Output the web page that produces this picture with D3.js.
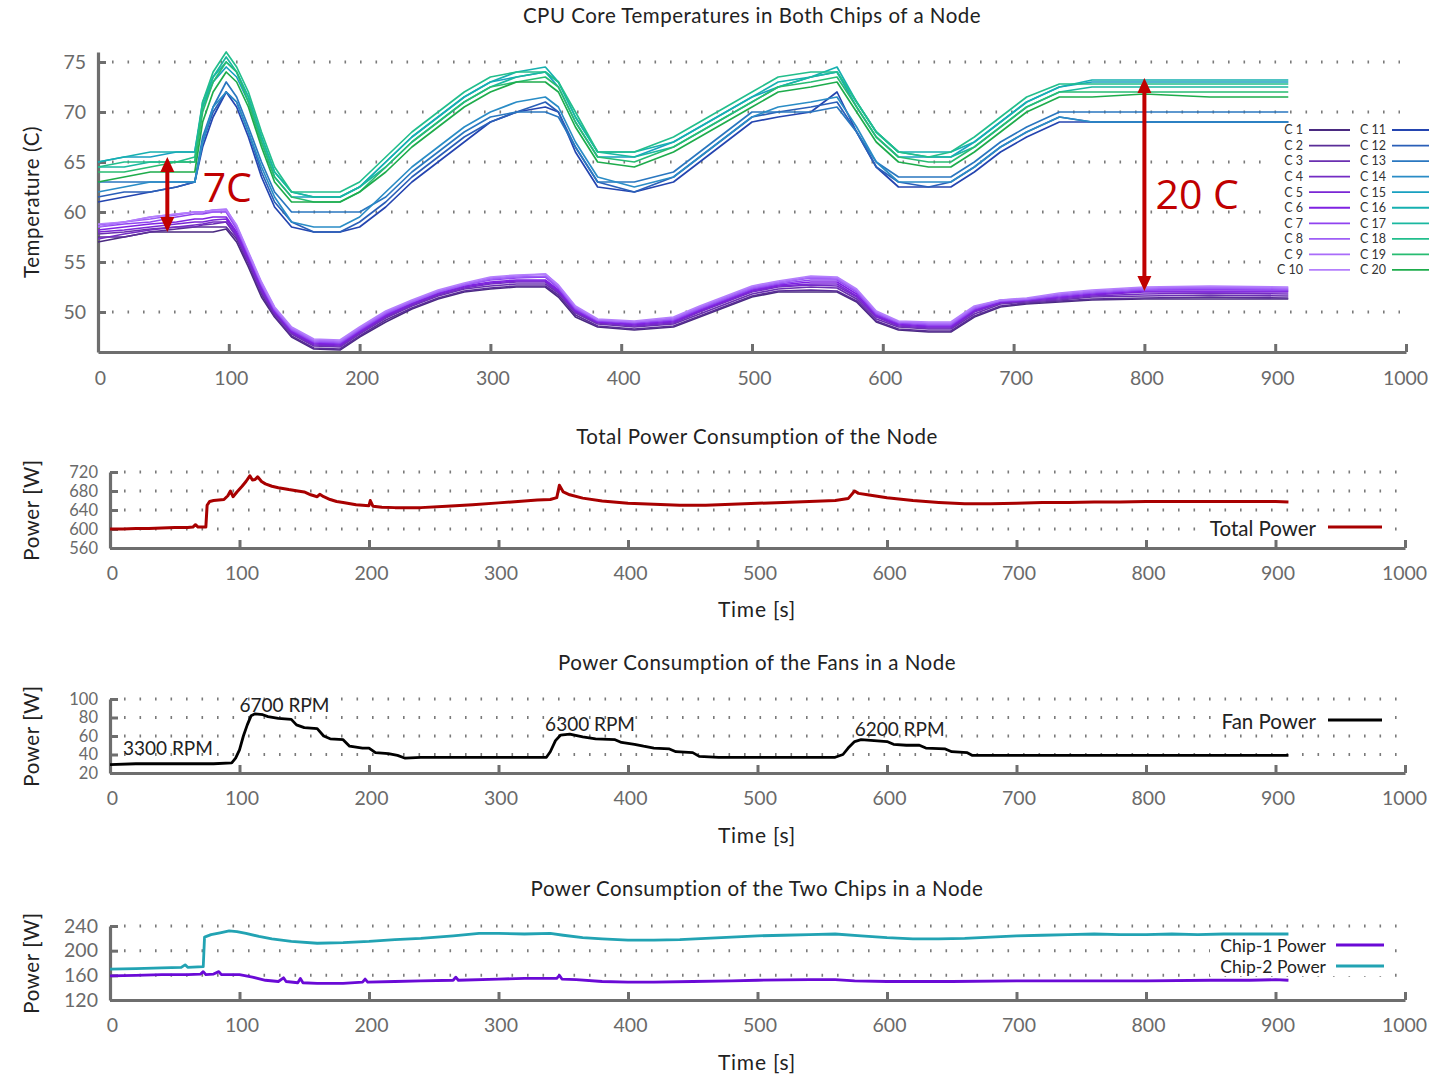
<!DOCTYPE html>
<html><head><meta charset="utf-8">
<script src="https://cdn.jsdelivr.net/npm/d3@7"></script>
<style>
body{margin:0;background:#fff;}
svg{display:block;font-family:Lato,"Open Sans",sans-serif;}
</style></head><body>
<svg id="c" width="1429" height="1075"></svg>
<script>
// ---------- DATA ----------
const xTicks = [0,100,200,300,400,500,600,700,800,900,1000];
const tempTicks = [50,55,60,65,70,75];
const totalTicks = [560,600,640,680,720];
const fanTicks = [20,40,60,80,100];
const chipTicks = [120,160,200,240];

const tempTime = [0,20,40,60,74,80,88,98,106,115,125,135,148,165,185,200,220,240,260,280,300,320,342,352,365,382,410,440,460,480,500,520,545,565,580,595,612,635,652,670,690,710,735,760,800,850,910];

const coreNames = ["C 1","C 2","C 3","C 4","C 5","C 6","C 7","C 8","C 9","C 10","C 11","C 12","C 13","C 14","C 15","C 16","C 17","C 18","C 19","C 20"];
const coreColors = ["#4a2a80","#5a2d98","#6a2fb0","#742cc4","#7a26d4","#7f22e2","#9043f0","#9e5ef6","#a96cfa","#b47ffd",
                    "#2445b0","#2a5fb8","#2a77c0","#2a8cc6","#18a0c0","#16b0b0","#1ab8a0","#22be8c","#28bc72","#1eac4c"];

const c1 = [57,57.5,58,58,58,58,58,58.3,57,54.5,51.5,49.5,47.5,46.3,46.2,47.5,49,50.3,51.3,52,52.3,52.5,52.5,51.5,49.5,48.5,48.2,48.5,49.5,50.5,51.5,52,52,52,51,49,48.2,48,48,49.5,50.5,50.8,51,51.2,51.3,51.3,51.3];
const c2 = [57.5,57.5,58,58.3,58.5,58.5,58.5,58.5,57.3,54.8,51.8,49.6,47.6,46.4,46.3,47.6,49.2,50.4,51.4,52.1,52.4,52.6,52.6,51.7,49.7,48.6,48.3,48.6,49.6,50.6,51.6,52.1,52.2,52.1,51.1,49.1,48.3,48.1,48.1,49.6,50.6,50.9,51.1,51.3,51.4,51.5,51.4];
const c3 = [57.8,58,58.3,58.5,58.5,58.7,58.8,59,57.5,55,52,49.8,47.8,46.6,46.5,47.8,49.4,50.6,51.6,52.3,52.6,52.8,52.8,51.9,49.9,48.8,48.5,48.8,49.8,50.8,51.8,52.3,52.5,52.4,51.3,49.3,48.5,48.3,48.3,49.8,50.8,51,51.2,51.5,51.6,51.7,51.6];
const c4 = [57.3,57.8,58.2,58.5,58.7,58.8,59,59,57.6,55.1,52.1,49.9,47.9,46.7,46.6,47.9,49.5,50.7,51.7,52.4,52.8,53,53,52,50,48.9,48.6,48.9,50,51,52,52.5,52.7,52.6,51.5,49.5,48.6,48.4,48.4,50,50.9,51.1,51.3,51.6,51.8,51.9,51.8];
const c5 = [58,58.2,58.5,58.8,59,59,59.2,59.3,57.8,55.3,52.3,50,48,46.8,46.7,48,49.6,50.8,51.8,52.5,52.9,53.1,53.1,52.1,50.1,49,48.7,49,50.1,51.1,52.1,52.6,52.8,52.8,51.6,49.6,48.7,48.5,48.5,50.1,51,51.2,51.4,51.7,52,52,52];
const c6 = [58.2,58.5,58.8,59,59.3,59.3,59.5,59.5,58,55.5,52.5,50.1,48.1,46.9,46.8,48.1,49.7,50.9,51.9,52.6,53,53.2,53.2,52.2,50.2,49,48.8,49.1,50.2,51.2,52.2,52.7,53,53,51.8,49.7,48.8,48.6,48.6,50.2,51,51.2,51.5,51.8,52.1,52.1,52.1];
const c7 = [58.5,58.8,59,59.5,59.8,59.8,60,60,58.3,55.7,52.7,50.2,48.2,47,46.9,48.2,49.8,51,52,52.7,53.2,53.4,53.5,52.4,50.3,49.1,48.9,49.2,50.3,51.3,52.3,52.8,53.2,53.2,52,49.8,48.9,48.7,48.7,50.3,51.1,51.2,51.6,51.9,52.2,52.3,52.2];
const c8 = [58.7,59,59.3,59.7,60,60,60,60.1,58.5,55.8,52.8,50.3,48.3,47.1,47,48.3,49.9,51,52,52.7,53.3,53.5,53.6,52.5,50.4,49.2,49,49.3,50.4,51.4,52.4,52.9,53.4,53.3,52.1,49.9,49,48.8,48.8,50.4,51.1,51.3,51.7,52,52.3,52.4,52.3];
const c9 = [58.5,59,59.5,59.8,60,60,60.2,60.3,58.6,55.9,52.9,50.4,48.4,47.2,47.1,48.4,50,51.1,52.1,52.8,53.4,53.6,53.8,52.6,50.5,49.2,49,49.4,50.5,51.5,52.5,53,53.5,53.4,52.2,50,49,48.9,48.9,50.5,51.2,51.3,51.8,52.1,52.4,52.5,52.4];
const c10 = [58.8,59,59.5,59.8,60,60,60.2,60.2,58.7,56,53,50.5,48.5,47.3,47.2,48.5,50.1,51.2,52.2,52.9,53.5,53.7,53.8,52.7,50.6,49.3,49.1,49.5,50.6,51.6,52.6,53.1,53.6,53.5,52.3,50.1,49.1,49,49,50.6,51.2,51.4,51.9,52.2,52.5,52.6,52.5];
const c11 = [61,61.5,62,62.5,63,66.5,69.5,72,70.5,67.5,63.5,60.5,58.5,58,58,58.5,60.5,63,65,67,69,70,70.5,70,66,62.5,62,63,65,67,69,69.5,70,72,68,64.5,62.5,62.5,62.5,64,66,67.5,69,69,69,69,69];
const c12 = [61.5,62,62,62.5,63,67,70,72,71,68,64,61,59,58,58,59,61,63.5,65.5,67.5,69,70,71,70,66.5,63,62,63.5,65.5,67.5,69.5,70,70.5,71,68,64.5,63,62.5,63,64.5,66.5,68,69.5,69,69,69,69];
const c13 = [63,63,63,63,63,67.5,70.5,73,71.5,68.5,65,62,60,60,60,60,61.5,64,66,68,69.5,70,70,69.5,66.5,63,63,64,66,68,70,70,70,70.5,68,65,63.5,63.5,63.5,65,67,68.5,70,70,70,70,70];
const c14 = [62,62.5,63,63,63,67,70.5,72,71,68,64.5,61.5,59,58.5,58.5,59.5,62,64.5,66.5,68.5,70,71,71.5,70.5,67,63.5,62.5,63.5,65.5,67.5,69.5,70.5,71,71.5,68.5,65,63,63,63,64.5,66.5,68,69.5,69,69,69,69];
const c15 = [65,65.5,65.5,66,66,70.5,73,74.5,73.5,71,67,63.5,61.5,61.5,61.5,62.5,65,67.5,69.5,71.5,73,73.5,74,72.5,69,65.5,65.5,67,68.5,70,71.5,72.5,73.5,74,70.5,67.5,65.5,65.5,65.5,67,69,71,72.5,73,73,73,73];
const c16 = [65,65.5,66,66,66,71,73.5,75,74,71.5,67.5,64,62,61.5,61.5,62.5,65,67.5,69.5,71.5,73,74,74.5,73,69.5,66,66,67,68.5,70,71.5,73,73.5,74.5,71,68,66,66,66,67,69,71,72.5,73.2,73.2,73.2,73.2];
const c17 = [64.5,64.5,65,65,65,70.5,73.5,75.5,74,71.5,67.5,64,62,61.5,61.5,62.5,64.5,67,69,71,72.5,73.5,74,73,69.5,66,65.5,66.5,68,69.5,71,72.5,73.5,74,71,68,66,65.5,65.5,66.5,68.5,70.5,72,72.5,72.5,72.5,72.5];
const c18 = [64.5,65,65,65,65.5,71,74,76,74.5,72,68,64.5,62,62,62,63,65.5,68,70,72,73.5,74,74,73,70,66,66,67.5,69,70.5,72,73.5,74,74,71,68,66,65.5,66,67.5,69.5,71.5,72.8,72.8,72.8,72.8,72.8];
const c19 = [64,64,64.5,65,65,70,73,75,74,71,67,63.5,61.5,61,61,62,64.5,67,69,71,72.5,73,73.5,72.5,69,65.5,65,66.5,68,69.5,71,72.5,73,73.5,70.5,67.5,65.5,65,65,66.5,68.5,70.5,72,72,72,72,72];
const c20 = [63,63.5,64,64,64,69,72,74,73,70.5,66.5,63,61,61,61,62,64,66.5,68.5,70.5,72,73,73,72,68.5,65,64.5,66,67.5,69,70.5,72,72.5,73,70,67,65,64.5,64.5,66,68,70,71.5,71.5,71.8,71.5,71.5];

const totalPower = [[0,600],[10,600],[20,601],[30,601],[40,602],[50,603],[60,603],[64,604],[66,609],[68,604],[72,604],[74,604],[75,650],[77,658],[80,660],[84,661],[88,662],[91,670],[93,680],[95,668],[98,678],[102,690],[105,700],[108,712],[110,703],[112,704],[114,710],[117,700],[120,695],[125,690],[130,687],[138,683],[145,680],[150,678],[155,672],[160,668],[162,673],[165,668],[170,662],[175,658],[180,656],[190,651],[200,649],[201,660],[203,648],[210,646],[220,645],[240,645],[260,648],[280,651],[300,655],[310,657],[320,659],[330,661],[340,662],[345,666],[347,692],[350,678],[355,672],[365,665],[380,659],[400,654],[420,652],[440,650],[460,650],[480,652],[500,654],[520,656],[540,658],[560,660],[570,664],[575,680],[578,675],[585,672],[600,666],[620,660],[640,656],[660,653],[680,653],[700,654],[720,656],[740,656],[760,657],[780,657],[800,658],[820,658],[840,658],[860,658],[880,658],[900,658],[910,657]];

const fanPower = [[0,29],[20,30],[40,30],[60,30],[80,30],[94,31],[97,36],[100,45],[103,60],[106,72],[109,82],[112,84],[118,83],[122,81],[130,79],[140,78],[144,72],[150,69],[160,68],[165,60],[170,57],[180,56],[185,49],[195,47],[200,47],[205,42],[215,41],[222,39],[228,36],[240,37],[270,37],[300,37],[320,37],[337,37],[340,43],[344,55],[348,61],[355,62],[365,59],[375,57],[390,56],[395,53],[405,51],[412,49],[420,47],[432,46],[437,43],[450,42],[455,38],[470,37],[520,37],[560,37],[566,40],[570,47],[575,54],[580,56],[590,55],[600,54],[605,51],[615,50],[625,50],[630,47],[645,46],[650,43],[662,42],[666,39],[700,39],[760,39],[800,39],[850,39],[900,39],[910,39]];

const chip1Power = [[0,159],[20,160],[40,161],[60,161],[70,162],[72,166],[74,161],[80,162],[84,166],[86,161],[100,161],[110,157],[120,152],[130,150],[134,156],[136,150],[145,148],[147,155],[149,148],[160,147],[180,147],[195,149],[197,154],[199,149],[220,150],[240,151],[265,152],[267,157],[269,152],[300,154],[320,155],[345,155],[347,160],[349,154],[360,153],[380,150],[400,149],[420,149],[450,150],[480,151],[500,152],[540,153],[560,153],[575,151],[600,150],[650,150],[700,151],[750,151],[800,151],[850,152],[880,152],[900,153],[910,152]];

const chip2Power = [[0,170],[20,171],[40,172],[55,173],[58,177],[60,173],[72,174],[73,222],[78,226],[85,229],[92,232],[98,231],[105,228],[115,223],[125,219],[140,215],[160,212],[180,213],[200,215],[220,218],[240,220],[265,224],[285,228],[300,228],[320,227],[340,228],[350,225],[365,221],[380,219],[400,217],[420,217],[440,218],[460,220],[480,222],[500,224],[520,225],[540,226],[560,227],[580,224],[600,221],[620,219],[640,219],[660,220],[680,222],[700,224],[720,225],[740,226],[760,227],[780,226],[800,226],[820,227],[840,226],[860,227],[880,227],[900,227],[910,227]];

const rpmLabels = [["3300 RPM",10,39],["6700 RPM",100,86],["6300 RPM",336,65],["6200 RPM",575,59.5]];
const tempArrows = [{t:53,lo:58,hi:65.5,label:"7C"},{t:800,lo:52.1,hi:73.4,label:"20 C"}];

const coreSeries = [c1,c2,c3,c4,c5,c6,c7,c8,c9,c10,c11,c12,c13,c14,c15,c16,c17,c18,c19,c20];

// ---------- DRAW ----------
const svg = d3.select("#c");
const AX = "#6e6e6e", TXT = "#222";

function panel(o){
  const x = d3.scaleLinear().domain([0,1000]).range([o.x0,o.x1]);
  const y = d3.scaleLinear().domain(o.yDomain).range([o.yb,o.yt]);
  const g = svg.append("g");
  o.yTicks.filter(v=>v!==o.yDomain[0]).forEach(v=>{
    g.append("line").attr("x1",o.x0+14).attr("x2",o.x1-6).attr("y1",y(v)).attr("y2",y(v))
     .attr("stroke","#7a7a7a").attr("stroke-width",3).attr("stroke-dasharray","1.6,13.9");
  });
  const xa = g.append("g").attr("transform",`translate(0,${o.yb})`)
    .call(d3.axisBottom(x).tickValues(xTicks).tickSize(-8).tickSizeOuter(0).tickPadding(o.xPad).tickFormat(d3.format("d")));
  const ya = g.append("g").attr("transform",`translate(${o.x0},0)`)
    .call(d3.axisLeft(y).tickValues(o.yTicks).tickSize(-8).tickSizeOuter(0).tickPadding(12).tickFormat(d3.format("d")));
  [xa,ya].forEach(a=>{
    a.style("color",AX);
    a.select(".domain").attr("stroke-width",3.2);
    a.selectAll(".tick line").attr("stroke-width",3);
    a.selectAll(".tick text").attr("fill","#6a6a6a").attr("font-family","Lato");
  });
  xa.selectAll(".tick text").attr("font-size",19.5).attr("dx",(d)=>d===1000?-1:2);
  ya.selectAll(".tick text").attr("font-size",o.yfs||19.5);
  svg.append("text").attr("x",o.tx).attr("y",o.ty).attr("text-anchor","middle").attr("font-size",20.5)
     .attr("letter-spacing",0.5).attr("fill",TXT).text(o.title);
  svg.append("text").attr("transform",`translate(39,${(o.yt+o.yb)/2}) rotate(-90)`).attr("text-anchor","middle")
     .attr("font-size",20.5).attr("letter-spacing",0.6).attr("fill",TXT).text(o.ylabel);
  if(o.xlabel) svg.append("text").attr("x",757).attr("y",o.xly).attr("text-anchor","middle").attr("font-size",21)
     .attr("letter-spacing",0.8).attr("fill",TXT).text(o.xlabel);
  return {x,y,g};
}
function legendBox(x0,y0,x1,y1){
  svg.append("rect").attr("x",x0).attr("y",y0).attr("width",x1-x0).attr("height",y1-y0).attr("fill","#fff");
}

// Panel 1: temperatures
const p1 = panel({x0:98,x1:1406,yt:52,yb:352,yDomain:[46,76],yTicks:tempTicks,xPad:19,
  title:"CPU Core Temperatures in Both Chips of a Node",tx:752,ty:23,ylabel:"Temperature (C)"});
legendBox(1266,120,1429,280);
const line1 = d3.line().x((d,i)=>p1.x(tempTime[i])).y(d=>p1.y(d));
coreSeries.forEach((s,i)=>{
  svg.append("path").attr("d",line1(s)).attr("fill","none").attr("stroke",coreColors[i])
     .attr("stroke-width",1.7).attr("stroke-linejoin","round");
});
coreNames.forEach((n,i)=>{
  const col = i<10?0:1, row = i%10;
  const yy = 130 + row*15.55;
  const tx = col===0?1303:1386, lx0 = col===0?1309:1392, lx1 = col===0?1350:1432;
  svg.append("text").attr("x",tx).attr("y",yy).attr("dy","0.35em").attr("text-anchor","end")
     .attr("font-size",12.5).attr("fill","#333").text(n);
  svg.append("line").attr("x1",lx0).attr("x2",lx1).attr("y1",yy).attr("y2",yy)
     .attr("stroke",coreColors[i]).attr("stroke-width",1.8);
});
const RED = "#c00000";
tempArrows.forEach(a=>{
  const xp = p1.x(a.t), yt = p1.y(a.hi), yb = p1.y(a.lo), hw=7, hl=15;
  svg.append("line").attr("x1",xp).attr("x2",xp).attr("y1",yt+hl-2).attr("y2",yb-hl+2)
     .attr("stroke",RED).attr("stroke-width",4);
  svg.append("path").attr("d",`M${xp},${yt}L${xp-hw},${yt+hl}L${xp+hw},${yt+hl}Z`).attr("fill",RED);
  svg.append("path").attr("d",`M${xp},${yb}L${xp-hw},${yb-hl}L${xp+hw},${yb-hl}Z`).attr("fill",RED);
});
svg.append("text").attr("x",p1.x(80)).attr("y",202).attr("font-family","'Open Sans'").attr("font-size",41)
   .attr("fill",RED).text(tempArrows[0].label);
svg.append("text").attr("x",p1.x(808.5)).attr("y",209).attr("font-family","'Open Sans'").attr("font-size",41)
   .attr("fill",RED).text(tempArrows[1].label);

const lineP = (p)=>d3.line().x(d=>p.x(d[0])).y(d=>p.y(d[1]));

// Panel 2: total power
const p2 = panel({x0:110,x1:1405,yt:472,yb:548,yDomain:[560,720],yTicks:totalTicks,xPad:18,yfs:16.5,
  title:"Total Power Consumption of the Node",tx:757,ty:444,ylabel:"Power [W]",xlabel:"Time [s]",xly:617});
legendBox(1198,518,1392,540);
svg.append("path").attr("d",lineP(p2)(totalPower)).attr("fill","none").attr("stroke","#a80000")
   .attr("stroke-width",3).attr("stroke-linejoin","round");
svg.append("text").attr("x",1316).attr("y",529).attr("dy","0.35em").attr("text-anchor","end").attr("font-size",20.5)
   .attr("fill",TXT).text("Total Power");
svg.append("line").attr("x1",1328).attr("x2",1382).attr("y1",527).attr("y2",527).attr("stroke","#a80000").attr("stroke-width",3);

// Panel 3: fan power
const p3 = panel({x0:110,x1:1405,yt:699,yb:773,yDomain:[20,100],yTicks:fanTicks,xPad:18,yfs:16.5,
  title:"Power Consumption of the Fans in a Node",tx:757,ty:670,ylabel:"Power [W]",xlabel:"Time [s]",xly:843});
legendBox(1212,710,1392,732);
svg.append("path").attr("d",lineP(p3)(fanPower)).attr("fill","none").attr("stroke","#000")
   .attr("stroke-width",2.8).attr("stroke-linejoin","round");
rpmLabels.forEach(r=>{
  svg.append("text").attr("x",p3.x(r[1])).attr("y",p3.y(r[2])).attr("font-size",19).attr("fill",TXT).text(r[0]);
});
svg.append("text").attr("x",1316).attr("y",722).attr("dy","0.35em").attr("text-anchor","end").attr("font-size",20.5)
   .attr("fill",TXT).text("Fan Power");
svg.append("line").attr("x1",1328).attr("x2",1382).attr("y1",720).attr("y2",720).attr("stroke","#000").attr("stroke-width",3);

// Panel 4: chip power
const p4 = panel({x0:110,x1:1405,yt:926,yb:1000,yDomain:[120,240],yTicks:chipTicks,xPad:18,
  title:"Power Consumption of the Two Chips in a Node",tx:757,ty:896,ylabel:"Power [W]",xlabel:"Time [s]",xly:1070});
legendBox(1210,936,1392,976);
svg.append("path").attr("d",lineP(p4)(chip2Power)).attr("fill","none").attr("stroke","#22a3b3")
   .attr("stroke-width",2.8).attr("stroke-linejoin","round");
svg.append("path").attr("d",lineP(p4)(chip1Power)).attr("fill","none").attr("stroke","#6a0ad6")
   .attr("stroke-width",2.8).attr("stroke-linejoin","round");
[["Chip-1 Power","#6a0ad6",945],["Chip-2 Power","#22a3b3",966]].forEach(l=>{
  svg.append("text").attr("x",1326).attr("y",l[2]+1).attr("dy","0.35em").attr("text-anchor","end").attr("font-size",17.5)
     .attr("fill",TXT).text(l[0]);
  svg.append("line").attr("x1",1336).attr("x2",1384).attr("y1",l[2]).attr("y2",l[2]).attr("stroke",l[1]).attr("stroke-width",3);
});
</script></body></html>
